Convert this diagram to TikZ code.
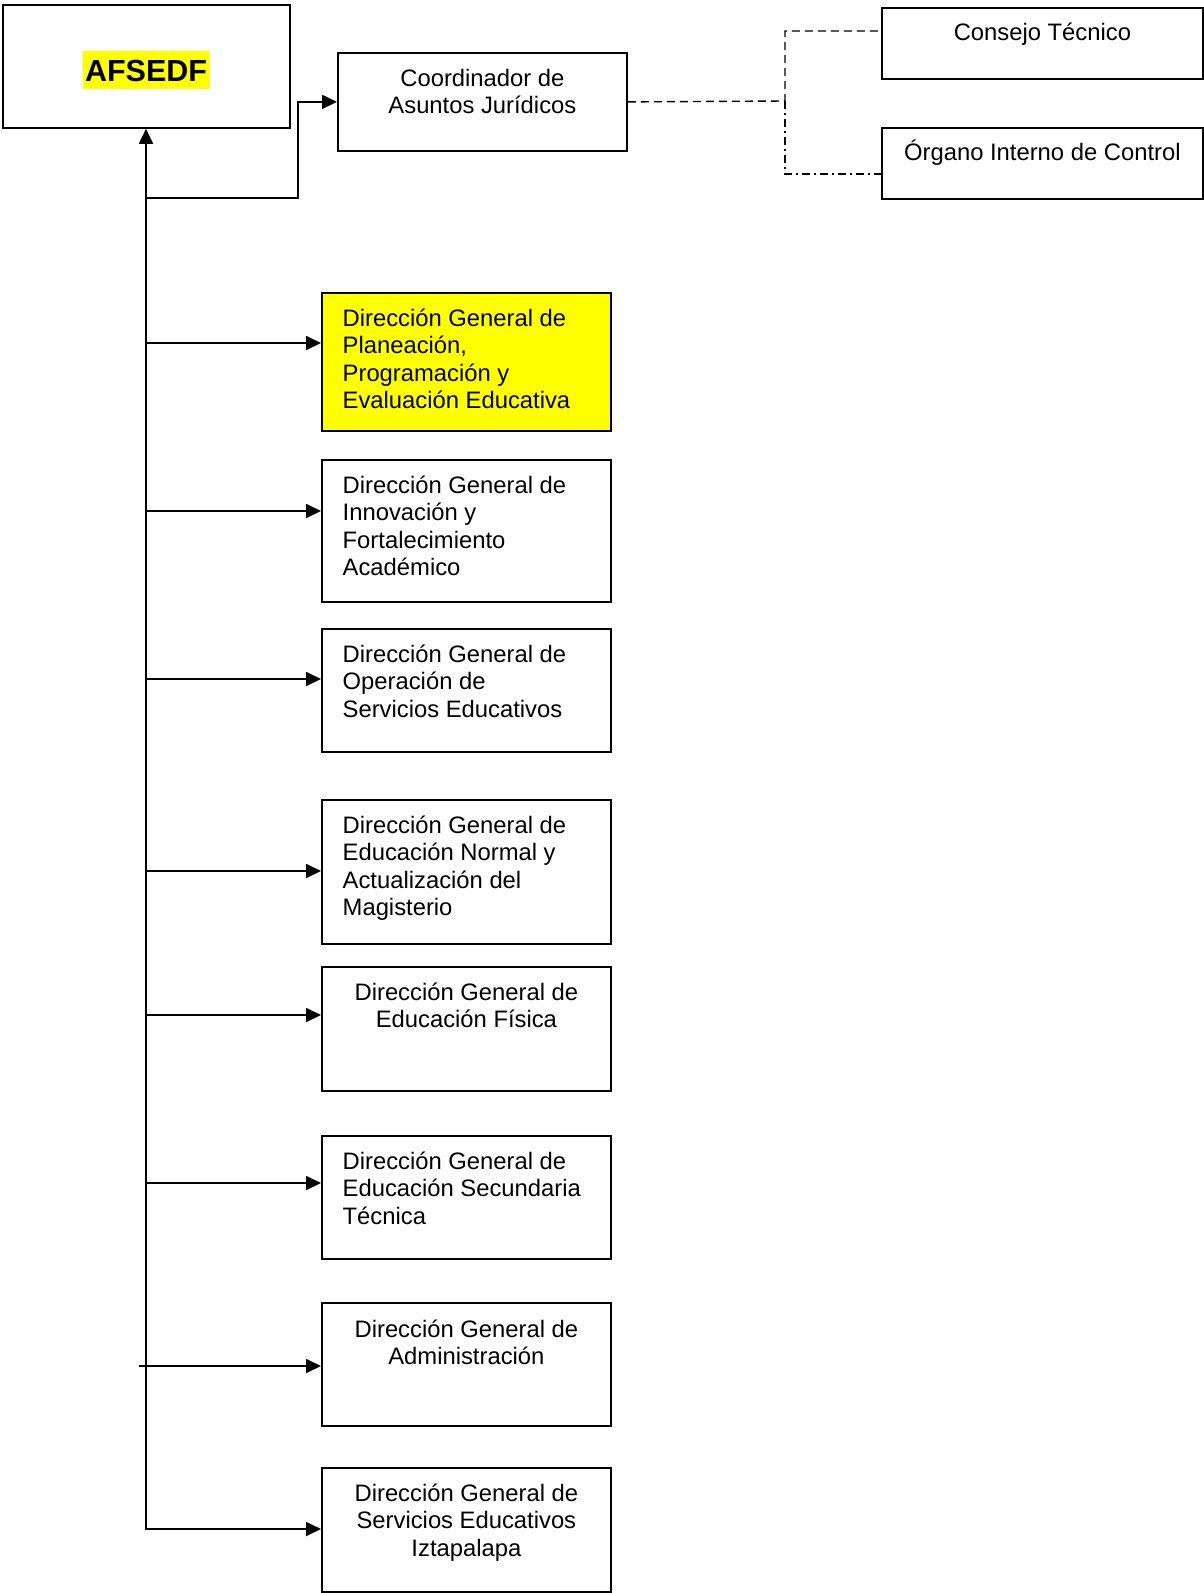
\documentclass[tikz,border=0pt]{standalone}
\usepackage{fontspec}
\setmainfont{Liberation Sans}
\usetikzlibrary{arrows.meta}
\definecolor{hlyellow}{RGB}{255,255,0}
\begin{document}
\begin{tikzpicture}[x=1pt,y=-1pt,
  box/.style={draw, line width=1.8pt, inner sep=0pt, anchor=north west},
  txt/.style={inner sep=0pt, font=\fontsize{23.8}{27.4}\selectfont},
  ltxt/.style={txt, anchor=north west, align=left},
  ctxt/.style={txt, anchor=north, align=center},
  conn/.style={line width=1.8pt},
  tip/.tip={Triangle[length=15pt,width=14pt]},
  arr/.style={conn, -tip},
  dashln/.style={line width=1.4pt, dash pattern=on 8pt off 5pt},
  dashdotln/.style={line width=1.4pt, dash pattern=on 8pt off 4pt on 2pt off 4pt}]
\useasboundingbox (0,0) rectangle (1204,1593);

% boxes
\node[box, minimum width=287pt, minimum height=123pt] (afs) at (2,4) {};
\node[box, minimum width=289pt, minimum height=98pt] (coord) at (337,52) {};
\node[box, minimum width=321pt, minimum height=71pt] (ct) at (881,7) {};
\node[box, minimum width=321pt, minimum height=71pt] (oic) at (881,127) {};
\node[box, fill=hlyellow, minimum width=289pt, minimum height=138pt] (b1) at (321,292) {};
\node[box, minimum width=289pt, minimum height=142pt] (b2) at (321,459) {};
\node[box, minimum width=289pt, minimum height=123pt] (b3) at (321,628) {};
\node[box, minimum width=289pt, minimum height=144pt] (b4) at (321,799) {};
\node[box, minimum width=289pt, minimum height=124pt] (b5) at (321,966) {};
\node[box, minimum width=289pt, minimum height=123pt] (b6) at (321,1135) {};
\node[box, minimum width=289pt, minimum height=123pt] (b7) at (321,1302) {};
\node[box, minimum width=289pt, minimum height=124pt] (b8) at (321,1467) {};

% texts
\node[inner xsep=2.5pt, inner ysep=0pt, fill=hlyellow, text height=30.7pt, text depth=7.3pt,
      font=\fontsize{30.5}{36}\selectfont\bfseries, anchor=base] (afst) at (146,81.7) {AFSEDF};
\node[ctxt] (coordt) at ([yshift=-11pt]coord.north) {\rule{0pt}{23pt}Coordinador de\\Asuntos Jurídicos};
\node[ctxt] (ctt) at ([yshift=-10pt]ct.north) {\rule{0pt}{23pt}Consejo Técnico};
\node[ctxt] (oict) at ([yshift=-10pt]oic.north) {\rule{0pt}{23pt}Órgano Interno de Control};
\node[ltxt] (b1t) at ([xshift=21.5pt,yshift=-11pt]b1.north west) {\rule{0pt}{23pt}Dirección General de\\Planeación,\\Programación y\\Evaluación Educativa};
\node[ltxt] (b2t) at ([xshift=21.5pt,yshift=-11pt]b2.north west) {\rule{0pt}{23pt}Dirección General de\\Innovación y\\Fortalecimiento\\Académico};
\node[ltxt] (b3t) at ([xshift=21.5pt,yshift=-11pt]b3.north west) {\rule{0pt}{23pt}Dirección General de\\Operación de\\Servicios Educativos};
\node[ltxt] (b4t) at ([xshift=21.5pt,yshift=-11pt]b4.north west) {\rule{0pt}{23pt}Dirección General de\\Educación Normal y\\Actualización del\\Magisterio};
\node[ctxt] (b5t) at ([yshift=-11pt]b5.north) {\rule{0pt}{23pt}Dirección General de\\Educación Física};
\node[ltxt] (b6t) at ([xshift=21.5pt,yshift=-11pt]b6.north west) {\rule{0pt}{23pt}Dirección General de\\Educación Secundaria\\Técnica};
\node[ctxt] (b7t) at ([yshift=-12pt]b7.north) {\rule{0pt}{23pt}Dirección General de\\Administración};
\node[ctxt] (b8t) at ([yshift=-11pt]b8.north) {\rule{0pt}{23pt}Dirección General de\\Servicios Educativos\\Iztapalapa};

% trunk
\coordinate (tb) at (146,1529);
\draw[conn, tip-tip] (tb |- afs.south) -- (tb) -- (tb -| b8.west);

% branch to Coordinador
\coordinate (tc) at (146,198);
\coordinate (kc) at (298,198);
\draw[arr] (tc) -- (kc) -- (kc |- coord.west) -- (coord.west);

% branches to the directions
\coordinate (t1) at (146,343);
\coordinate (t2) at (146,511);
\coordinate (t3) at (146,679);
\coordinate (t4) at (146,871);
\coordinate (t5) at (146,1015);
\coordinate (t6) at (146,1183);
\coordinate (t7) at (139,1366);
\draw[arr] (t1) -- (t1 -| b1.west);
\draw[arr] (t2) -- (t2 -| b2.west);
\draw[arr] (t3) -- (t3 -| b3.west);
\draw[arr] (t4) -- (t4 -| b4.west);
\draw[arr] (t5) -- (t5 -| b5.west);
\draw[arr] (t6) -- (t6 -| b6.west);
\draw[arr] (t7) -- (t7 -| b7.west);

% dashed links
\coordinate (jm) at (785,101);
\coordinate (jt) at (785,31);
\coordinate (jb) at (785,174);
\draw[dashln] (coord.east) -- (jm) -- (jt) -- (jt -| ct.west);
\draw[dashdotln] (jm) -- (jb) -- (jb -| oic.west);
\end{tikzpicture}
\end{document}
